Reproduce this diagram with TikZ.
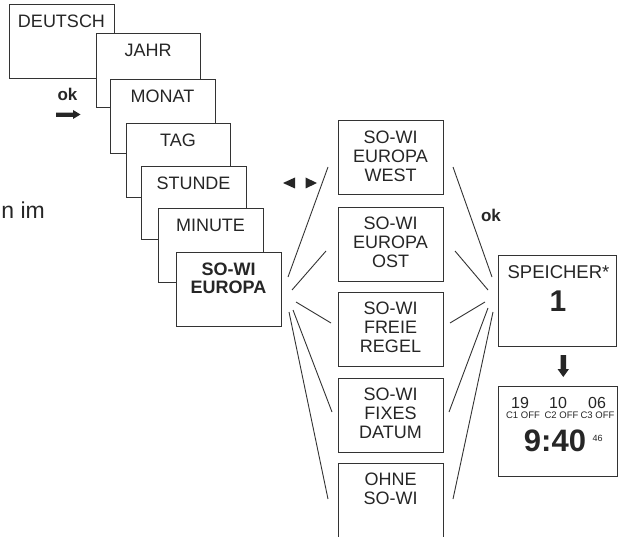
\documentclass[tikz,border=0pt]{standalone}
\usepackage{fontspec}
\setmainfont{Liberation Sans}
\begin{document}
\begin{tikzpicture}[x=1pt,y=-1pt,
  box/.style={draw=black!80, line width=0.9pt, fill=white, inner sep=0pt, anchor=north west, minimum width=105pt, minimum height=74pt},
  txt/.style={inner sep=0pt, anchor=north, align=center, font=\fontsize{18}{18.5}\selectfont, text=black!85},
  mtxt/.style={txt, font=\fontsize{18}{19}\selectfont},
  btxt/.style={txt, font=\fontsize{18}{18.5}\selectfont\bfseries},
  lbl/.style={inner sep=0pt, text=black!85},
  fan/.style={draw=black!80, line width=0.9pt},
  solid arrow/.style={fill=black!85, draw=none}]
\useasboundingbox (0,0) rectangle (620,537);

% left text fragment
\node[lbl, anchor=east, font=\fontsize{23}{23}\selectfont] (frag) at (45,210) {n im};

% cascade of boxes
\node[box] (deutsch) at (9,4) {};
\node[txt] (tdeutsch) at (61.5,14.5) {DEUTSCH};
\node[box, minimum width=104pt] (jahr) at (96,33) {};
\node[txt] (tjahr) at (148,43.5) {JAHR};
\node[box] (monat) at (110,79) {};
\node[txt] (tmonat) at (162.5,89.5) {MONAT};
\node[box, minimum width=104pt] (tag) at (126,123) {};
\node[txt] (ttag) at (178,133.5) {TAG};
\node[box, minimum height=73pt] (stunde) at (141,166) {};
\node[txt] (tstunde) at (193.5,176.5) {STUNDE};
\node[box] (minute) at (158,208) {};
\node[txt] (tminute) at (210.5,218.5) {MINUTE};
\node[box] (sowi) at (176,252) {};
\node[btxt] (tsowi) at (228.5,262.5) {SO-WI\\EUROPA};

% ok arrow (left)
\node[lbl, font=\fontsize{17}{17}\selectfont\bfseries] (okl) at (67.5,94) {ok};
\fill[solid arrow] (56,112.7) -- (73,112.7) -- (73,110) -- (80.5,114.5) -- (73,119) -- (73,117) -- (56,117) -- cycle;

% left/right triangles
\fill[solid arrow] (283,183) -- (295,177.5) -- (295,188.5) -- cycle;
\fill[solid arrow] (317,183) -- (305.5,177.5) -- (305.5,188.5) -- cycle;

% middle column
\node[box] (west) at (338,120.5) {};
\node[mtxt] (twest) at (390.5,130.5) {SO-WI\\EUROPA\\WEST};
\node[box] (ost) at (338,207) {};
\node[mtxt] (tost) at (390.5,216.5) {SO-WI\\EUROPA\\OST};
\node[box] (freie) at (338,292) {};
\node[mtxt] (tfreie) at (390.5,301.5) {SO-WI\\FREIE\\REGEL};
\node[box] (fixes) at (338,378) {};
\node[mtxt] (tfixes) at (390.5,387.5) {SO-WI\\FIXES\\DATUM};
\coordinate (ohnebl) at (338,540);
\coordinate (ohnetl) at (338,463);
\coordinate (ohnetr) at (443,463);
\coordinate (ohnebr) at (443,540);
\draw[fan] (ohnebl) -- (ohnetl) -- (ohnetr) -- (ohnebr);
\node[mtxt] (tohne) at (390.5,472.5) {OHNE\\SO-WI};

% left fan
\coordinate (l1a) at (288,277); \coordinate (l1b) at (328,167);
\coordinate (l2a) at (292,290); \coordinate (l2b) at (326,251);
\coordinate (l3a) at (296,302); \coordinate (l3b) at (331,323);
\coordinate (l4a) at (293,310); \coordinate (l4b) at (332,412);
\coordinate (l5a) at (289,312); \coordinate (l5b) at (328,499);
\foreach \i in {1,...,5} \draw[fan] (l\i a) -- (l\i b);

% right fan
\coordinate (r1a) at (453,167); \coordinate (r1b) at (492,277);
\coordinate (r2a) at (455,251); \coordinate (r2b) at (488,290);
\coordinate (r3a) at (450,323); \coordinate (r3b) at (485,302);
\coordinate (r4a) at (449,412); \coordinate (r4b) at (488,308);
\coordinate (r5a) at (453,499); \coordinate (r5b) at (493,312);
\foreach \i in {1,...,5} \draw[fan] (r\i a) -- (r\i b);

\node[lbl, font=\fontsize{17}{17}\selectfont\bfseries] (okr) at (491,215) {ok};

% memory box
\node[box, minimum width=118pt, minimum height=91pt] (speicher) at (498,255) {};
\node[lbl, font=\fontsize{18.5}{18.5}\selectfont] (tspeicher) at (558.5,272.5) {SPEICHER*};
\node[lbl, font=\fontsize{30}{30}\selectfont\bfseries] (tone) at (558,301) {1};

% down arrow
\fill[solid arrow] (560.5,355) -- (566,355) -- (566,369) -- (569,369) -- (563.3,377) -- (557.5,369) -- (560.5,369) -- cycle;

% display box
\node[box, minimum width=119pt, minimum height=90pt] (display) at (498,386) {};
\node[lbl, font=\fontsize{16}{16}\selectfont] (d19) at (520,402.5) {19};
\node[lbl, font=\fontsize{16}{16}\selectfont] (d10) at (558,402.5) {10};
\node[lbl, font=\fontsize{16}{16}\selectfont] (d06) at (597,402.5) {06};
\node[lbl, font=\fontsize{9.5}{9.5}\selectfont] (c1) at (523,415) {C1 OFF};
\node[lbl, font=\fontsize{9.5}{9.5}\selectfont] (c2) at (561.5,415) {C2 OFF};
\node[lbl, font=\fontsize{9.5}{9.5}\selectfont] (c3) at (597.5,415) {C3 OFF};
\node[lbl, font=\fontsize{31}{31}\selectfont\bfseries] (time) at (555,441) {9:40};
\node[lbl, font=\fontsize{9}{9}\selectfont] (sec) at (597.5,438.5) {46};
\end{tikzpicture}
\end{document}
